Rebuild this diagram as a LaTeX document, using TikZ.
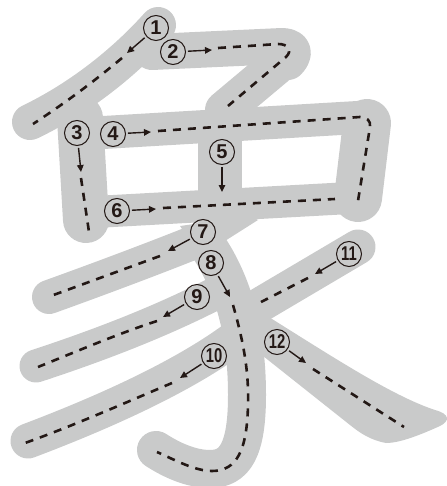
\documentclass[tikz,border=0pt]{standalone}
\usepackage{fontspec}
\usepackage{graphicx}
\setmainfont{Liberation Sans}
\usetikzlibrary{arrows.meta}
\definecolor{strokegray}{HTML}{C9CACA}
\definecolor{inkk}{HTML}{231815}
\tikzset{
  gs/.style={draw=strokegray, line cap=round, line join=round},
  guide/.style={draw=inkk, line width=2.6pt, dash pattern=on 8pt off 7pt},
  arr/.style={draw=inkk, line width=1.4pt, -{Triangle[length=7pt,width=6.5pt]}, shorten <=2pt},
  num/.style={circle, draw=inkk, line width=1pt, minimum size=25pt, inner sep=0pt, text=inkk,
    font=\fontsize{20}{20}\selectfont\bfseries},
}
\newcommand{\twodig}[1]{\scalebox{0.74}[1]{#1}}
\begin{document}
\begin{tikzpicture}[x=1pt,y=-1pt]
\useasboundingbox (0,0) rectangle (446,486);
% ---------- gray strokes ----------
% 1
\draw[gs, line width=36pt] (158,25) .. controls (125,62) and (80,98) .. (30,122);
% 2
\draw[gs, line width=36pt] (152,52) -- (282,46) .. controls (294,46) and (296,54) .. (288,62);
\draw[gs, line width=38pt] (286,58) -- (224,110);
% 3
\draw[gs, line width=46pt] (80,118) -- (86,220);
% 4
\draw[gs, line width=33pt] (95,133) -- (366,117);
\draw[gs, line width=48pt] (367,123) -- (358,198);
% 5
\draw[gs, line width=44pt, line cap=butt] (220,130) -- (220,200);
% 6
\draw[gs, line width=32pt] (95,212) -- (350,198);
% 7
\draw[gs, line width=34pt] (49,297) .. controls (110,275) and (160,256) .. (205,238);
\fill[strokegray] (180,226) -- (250,216) -- (258,220) -- (217,246) -- (200,255) -- cycle;
% 8
\draw[gs, line width=38pt] (205,242) .. controls (232,280) and (247,330) .. (247,395)
  .. controls (247,450) and (235,469) .. (210,469) .. controls (190,469) and (170,459) .. (156,450);
% 9
\draw[gs, line width=33pt] (36,366) .. controls (100,345) and (165,320) .. (222,290);
% 10
\draw[gs, line width=35pt] (28,441) .. controls (110,410) and (185,375) .. (235,338);
% 11
\draw[gs, line width=35pt] (358,247) -- (248,312);
% 12
\fill[strokegray] (256,309) .. controls (330,355) and (390,395) .. (435,410)
  .. controls (450,414) and (450,421) .. (440,426)
  .. controls (420,435) and (400,443) .. (386,443)
  .. controls (370,440) and (360,433) .. (350,425) -- (258,352) -- cycle;
% ---------- dashed guides ----------
\draw[guide] (122,58) .. controls (92,83) and (65,103) .. (33,124);
\draw[guide] (218,48) -- (278,44) .. controls (288,44) and (293,50) .. (286,57) -- (228,106);
\draw[guide] (81,178) -- (89,232);
\draw[guide] (158,131) -- (360,117) .. controls (367,117) and (371,121) .. (370,127) -- (357,207);
\draw[guide] (163,208) -- (335,199);
\draw[guide] (160,256) -- (48,297);
\draw[guide] (233,305) .. controls (243,340) and (249,370) .. (248,405)
  .. controls (247,450) and (237,471) .. (212,471) .. controls (195,471) and (175,460) .. (157,452);
\draw[guide] (157,321) .. controls (120,333) and (80,350) .. (38,367);
\draw[guide] (172,383) .. controls (120,405) and (75,425) .. (25,443);
\draw[guide] (308,278) -- (261,302);
\draw[guide] (313,369) -- (404,427);
% ---------- numbers ----------
\node[num] (c1) at (156,28) {1};
\node[num] (c2) at (173,52) {2};
\node[num] (c3) at (77,133) {3};
\node[num] (c4) at (113,134) {4};
\node[num] (c5) at (222,152) {5};
\node[num] (c6) at (117,211) {6};
\node[num] (c7) at (203,232) {7};
\node[num] (c8) at (211,263) {8};
\node[num] (c9) at (197,297) {9};
\node[num] (c10) at (214,356) {\twodig{10}};
\node[num] (c11) at (349,254) {\twodig{11}};
\node[num] (c12) at (277,342) {\twodig{12}};
% ---------- arrows ----------
\coordinate (a1) at (127,53);
\coordinate (a2) at (212,50);
\coordinate (a3) at (81,172);
\coordinate (a4) at (151,132);
\coordinate (a5) at (222,192);
\coordinate (a6) at (156,209);
\coordinate (a7) at (168,251);
\coordinate (a8) at (230,297);
\coordinate (a9) at (163,317);
\coordinate (a10) at (180,378);
\coordinate (a11) at (315,274);
\coordinate (a12) at (306,363);
\foreach \i in {1,...,12} { \draw[arr] (c\i) -- (a\i); }
\end{tikzpicture}
\end{document}
